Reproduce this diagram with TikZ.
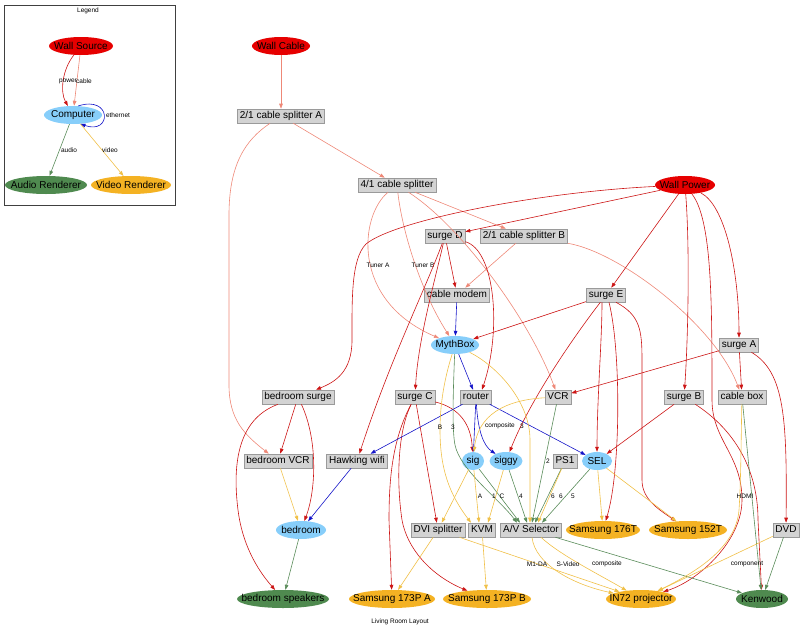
\documentclass[tikz,border=0pt]{standalone}
\usepackage{fontspec}
\setmainfont{Liberation Sans}
\usetikzlibrary{shapes.geometric,arrows.meta}

\definecolor{srcred}{HTML}{E60000}
\definecolor{compblue}{HTML}{87CEFA}
\definecolor{audgreen}{HTML}{4F8A4F}
\definecolor{vidgold}{HTML}{F4B223}
\definecolor{boxfill}{HTML}{D3D3D3}
\definecolor{boxline}{HTML}{9A9A9A}
\definecolor{pwline}{HTML}{CC1515}
\definecolor{cbline}{HTML}{EE8877}
\definecolor{ethline}{HTML}{1414C8}
\definecolor{audline}{HTML}{5A8C5A}
\definecolor{vidline}{HTML}{F0C048}

\newcommand{\ztext}[1]{\makebox[0pt]{#1}}

\tikzset{
  ell/.style={ellipse, inner sep=0pt, minimum height=18pt,
    font=\fontsize{10}{10}\selectfont},
  src/.style={ell, fill=srcred},
  comp/.style={ell, fill=compblue},
  spk/.style={ell, fill=audgreen},
  scr/.style={ell, fill=vidgold},
  dev/.style={rectangle, draw=boxline, line width=0.6pt, fill=boxfill,
    inner xsep=2.5pt, inner ysep=0pt, minimum height=14pt,
    text height=7.3pt, text depth=2pt, font=\fontsize{10}{10}\selectfont},
  wire/.style={line width=0.6pt, -{Triangle[length=5pt,width=3.6pt]}},
  pw/.style={wire, draw=pwline},
  cb/.style={wire, draw=cbline},
  eth/.style={wire, draw=ethline},
  aud/.style={wire, draw=audline},
  vid/.style={wire, draw=vidline},
  lbl/.style={font=\fontsize{6.5}{6.5}\selectfont, inner sep=0pt},
}

\begin{document}
\begin{tikzpicture}[x=1pt,y=-1pt]
\useasboundingbox (0,0) rectangle (800,629);

% ---------------- legend ----------------
\draw[black!75, line width=0.6pt] (4,5) rectangle (175,205);
\node[lbl] (legendtitle) at (88,11) {Legend};
\node[src, minimum width=64pt] (ws) at (81,46) {\ztext{Wall Source}};
\node[comp, minimum width=58pt] (cmp) at (73,115) {\ztext{Computer}};
\node[spk, minimum width=82pt] (audr) at (46,185) {\ztext{Audio Renderer}};
\node[scr, minimum width=80pt] (vidr) at (131,185) {\ztext{Video Renderer}};

\draw[pw] (ws) .. controls (62,70) and (60,92) .. (cmp);
\draw[cb] (ws) -- (cmp);
\draw[eth] (cmp.60) .. controls (112,95) and (112,135) .. (cmp.-50);
\draw[aud] (cmp) -- (audr);
\draw[vid] (cmp) -- (vidr);
\node[lbl] (lpower) at (68,81) {power};
\node[lbl] (lcable) at (84,81) {cable};
\node[lbl] (leth) at (118,115) {ethernet};
\node[lbl] (laudio) at (69,150) {audio};
\node[lbl] (lvideo) at (110,150) {video};

% ---------------- devices ----------------
\node[src, minimum width=58pt] (wcable) at (281,46) {\ztext{Wall Cable}};
\node[dev] (splA) at (281,116) {2/1 cable splitter A};
\node[dev] (spl4) at (397,185) {4/1 cable splitter};
\node[src, minimum width=60pt] (wpower) at (685,185) {\ztext{Wall Power}};
\node[dev] (surgeD) at (445,236) {surge D};
\node[dev] (splB) at (524,236) {2/1 cable splitter B};
\node[dev] (modem) at (457,295) {cable modem};
\node[dev] (surgeE) at (606,295) {surge E};
\node[comp, minimum width=48pt] (myth) at (455,345) {\ztext{MythBox}};
\node[dev] (surgeA) at (739,345) {surge A};
\node[dev] (bsurge) at (298,397) {bedroom surge};
\node[dev] (surgeC) at (415,397) {surge C};
\node[dev] (router) at (476,397) {router};
\node[dev] (vcr) at (558,397) {VCR};
\node[dev] (surgeB) at (684,397) {surge B};
\node[dev] (cbox) at (742,397) {cable box};
\node[dev] (bvcr) at (278,461) {bedroom VCR};
\node[dev] (hawk) at (357,461) {Hawking wifi};
\node[comp, minimum width=22pt] (sig) at (473,461) {\ztext{sig}};
\node[comp, minimum width=33pt] (siggy) at (506,461) {\ztext{siggy}};
\node[dev] (ps1) at (565,461) {PS1};
\node[comp, minimum width=30pt] (sel) at (597,461) {\ztext{SEL}};
\node[comp, minimum width=50pt] (bedroom) at (301,530) {\ztext{bedroom}};
\node[dev] (dvi) at (438,530) {DVI splitter};
\node[dev] (kvm) at (482,530) {KVM};
\node[dev] (avs) at (531,530) {A/V Selector};
\node[scr, minimum width=74pt] (s176) at (603,530) {\ztext{Samsung 176T}};
\node[scr, minimum width=78pt] (s152) at (688,530) {\ztext{Samsung 152T}};
\node[dev] (dvd) at (786,530) {DVD};
\node[spk, minimum width=92pt] (bspk) at (283,599) {\ztext{bedroom speakers}};
\node[scr, minimum width=86pt] (s173a) at (392,599) {\ztext{Samsung 173P A}};
\node[scr, minimum width=88pt] (s173b) at (487,599) {\ztext{Samsung 173P B}};
\node[scr, minimum width=70pt] (in72) at (641,599) {\ztext{IN72 projector}};
\node[spk, minimum width=52pt] (kenwood) at (762,599) {\ztext{Kenwood}};
\node[lbl] (title) at (400,622) {Living Room Layout};

% ---------------- cable ----------------
\draw[cb] (wcable) -- (splA);
\draw[cb] (splA) -- (spl4);
\draw[cb] (splA) .. controls (245,140) and (229,165) .. (229,215) -- (229,385)
  .. controls (229,420) and (245,435) .. (bvcr);
\draw[cb] (spl4) .. controls (360,215) and (350,300) .. (myth);
\draw[cb] (spl4) .. controls (402,230) and (420,290) .. (myth);
\draw[cb] (spl4) -- (splB);
\draw[cb] (spl4) .. controls (460,225) and (530,320) .. (vcr);
\draw[cb] (splB) -- (modem);
\draw[cb] (splB) .. controls (620,252) and (715,325) .. (cbox);
\node[lbl] (ltunera) at (378,265) {Tuner A};
\node[lbl] (ltunerb) at (423,265) {Tuner B};

% ---------------- power ----------------
\draw[pw] (wpower) -- (surgeD);
\draw[pw] (wpower) .. controls (540,192) and (395,220) .. (366,244)
  .. controls (351,259) and (352,300) .. (352,340)
  .. controls (352,372) and (335,382) .. (bsurge);
\draw[pw] (wpower) -- (surgeE);
\draw[pw] (wpower) .. controls (725,205) and (739,270) .. (surgeA);
\draw[pw] (wpower) .. controls (690,250) and (688,340) .. (surgeB);
\draw[pw] (wpower) .. controls (712,220) and (712,300) .. (712,400)
  .. controls (712,440) and (742,455) .. (742,500)
  .. controls (742,540) and (700,580) .. (in72);
\draw[pw] (surgeB) .. controls (735,430) and (758,470) .. (758,520) -- (kenwood);

\draw[pw] (surgeD) -- (modem);
\draw[pw] (surgeD) .. controls (495,250) and (502,330) .. ([xshift=6pt]router.north);
\draw[pw] (surgeD) .. controls (435,280) and (418,340) .. (surgeC);
\draw[pw] (surgeD) .. controls (425,290) and (390,360) .. (hawk);

\draw[pw] (surgeE) -- (myth);
\draw[pw] (surgeE) .. controls (575,335) and (530,400) .. (siggy);
\draw[pw] ([xshift=-4pt]surgeE.south) .. controls (602,340) and (597,400) .. (sel);
\draw[pw] ([xshift=3pt]surgeE.south) .. controls (621,350) and (621,470) .. (s176);
\draw[pw] ([xshift=10pt]surgeE.south) .. controls (640,315) and (642,330) .. (642,360)
  -- (642,480) .. controls (642,500) and (660,510) .. (s152);

\draw[pw] (surgeA) -- (vcr);
\draw[pw] (surgeA) -- (cbox);
\draw[pw] (surgeA) .. controls (785,372) and (787,420) .. (dvd);

\draw[pw] (surgeB) -- (sel);

\draw[pw] (bsurge) -- (bvcr);
\draw[pw] (bsurge) .. controls (318,440) and (316,490) .. (bedroom);
\draw[pw] (bsurge) .. controls (235,420) and (233,470) .. (238,510)
  .. controls (243,550) and (262,575) .. (bspk);

\draw[pw] (surgeC) .. controls (460,408) and (471,425) .. (sig);
\draw[pw] (surgeC) -- (dvi);
\draw[pw] (surgeC) .. controls (392,440) and (389,480) .. (389,520) -- (s173a);
\draw[pw] (surgeC) .. controls (398,430) and (396,480) .. (402,520)
  .. controls (407,548) and (430,575) .. (s173b);

% ---------------- ethernet ----------------
\draw[eth] (modem) -- (myth);
\draw[eth] (myth) -- (router);
\draw[eth] (router) -- (hawk);
\draw[eth] (router) -- (sig);
\draw[eth] (router) .. controls (478,432) and (484,446) .. (siggy);
\draw[eth] (router) -- (sel);
\draw[eth] (hawk) -- (bedroom);

% ---------------- audio ----------------
\draw[aud] (myth) .. controls (453,395) and (452,430) .. (455,445)
  .. controls (460,470) and (500,500) .. ([xshift=-14pt]avs.north);
\draw[aud] (sig) -- ([xshift=-11pt]avs.north);
\draw[aud] (siggy) -- ([xshift=-4pt]avs.north);
\draw[aud] (vcr) -- ([xshift=1pt]avs.north);
\draw[aud] (ps1) -- ([xshift=4pt]avs.north);
\draw[aud] (sel) -- ([xshift=11pt]avs.north);
\draw[aud] (avs) -- (kenwood);
\draw[aud] (cbox) -- (kenwood);
\draw[aud] (dvd) -- (kenwood);
\draw[aud] (bedroom) -- (bspk);

% ---------------- video ----------------
\draw[vid] (myth) .. controls (444,380) and (440,405) .. (440,430)
  .. controls (440,470) and (450,495) .. ([xshift=-11pt]kvm.north);
\draw[vid] (myth) .. controls (495,365) and (530,400) .. (530,440)
  -- ([xshift=-1pt]avs.north);
\draw[vid] (vcr) .. controls (505,400) and (478,415) .. (sig);
\draw[vid] (sig) -- (dvi);
\draw[vid] (sig) -- ([xshift=-3pt]kvm.north);
\draw[vid] (siggy) -- ([xshift=6pt]kvm.north);
\draw[vid] (ps1) -- ([xshift=7pt]avs.north);
\draw[vid] (sel) -- (s176);
\draw[vid] (sel) -- (s152);
\draw[vid] (bvcr) -- (bedroom);
\draw[vid] (dvi) -- (s173a);
\draw[vid] (dvi) -- (in72);
\draw[vid] (kvm) -- (s173b);
\draw[vid] ([xshift=1pt]avs.south) .. controls (535,565) and (575,585) .. (in72);
\draw[vid] ([xshift=10pt]avs.south) .. controls (560,555) and (600,575) .. (in72);
\draw[vid] (cbox) .. controls (741,440) and (741,480) .. (739,510)
  .. controls (736,550) and (690,575) .. (in72);
\draw[vid] (dvd) -- (in72);

% ---------------- connector labels ----------------
\node[lbl] (lb) at (440,427) {B};
\node[lbl] (l3a) at (453,427) {3};
\node[lbl] (lcomp1) at (500,426) {composite};
\node[lbl] (l3b) at (522,426) {3};
\node[lbl] (l2) at (548,461) {2};
\node[lbl] (la) at (480,496) {A};
\node[lbl] (l1) at (494,496) {1};
\node[lbl] (lc) at (502,496) {C};
\node[lbl] (l4) at (521,496) {4};
\node[lbl] (l6a) at (553,496) {6};
\node[lbl] (l6b) at (561,496) {6};
\node[lbl] (l5) at (573,496) {5};
\node[lbl] (lm1) at (537,564) {M1-DA};
\node[lbl] (lsv) at (568,564) {S-Video};
\node[lbl] (lcomp2) at (607,564) {composite};
\node[lbl] (lcomponent) at (747,564) {component};
\node[lbl] (lhdmi) at (745,496) {HDMI};
\end{tikzpicture}
\end{document}
